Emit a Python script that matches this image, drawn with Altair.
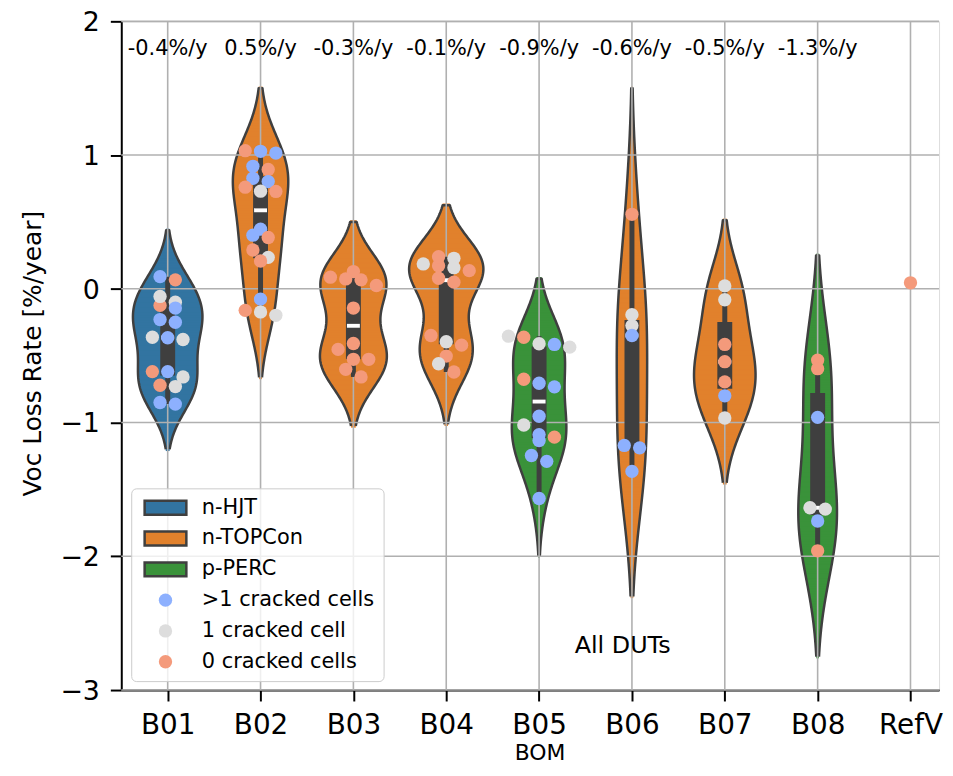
import json
import altair as alt
import pandas as pd

# ---------------- data ----------------
categories = ["B01", "B02", "B03", "B04", "B05", "B06", "B07", "B08", "RefV"]
technology = ["n-HJT", "n-TOPCon", "n-TOPCon", "n-TOPCon", "p-PERC",
              "n-TOPCon", "n-TOPCon", "p-PERC", "n-TOPCon"]
rate_labels = ["-0.4%/y", "0.5%/y", "-0.3%/y", "-0.1%/y",
               "-0.9%/y", "-0.6%/y", "-0.5%/y", "-1.3%/y"]
tech_names = ["n-HJT", "n-TOPCon", "p-PERC"]
tech_colors = ["#3274a1", "#e1812c", "#3a923a"]
crack_names = [">1 cracked cells", "1 cracked cell", "0 cracked cells"]
crack_colors = ["#8db0fe", "#dddddd", "#f49a7b"]
y_ticks = [-3, -2, -1, 0, 1, 2]

# crack codes: 2 = >1 cracked cells, 1 = 1 cracked cell, 0 = 0 cracked cells
b01_values = [0.091, 0.067, -0.124, -0.057, -0.100, -0.144, -0.250, -0.230, -0.366,
              -0.379, -0.362, -0.619, -0.619, -0.659, -0.721, -0.731, -0.850, -0.862]
b01_cracks = [2, 0, 0, 1, 1, 2, 2, 2, 2, 1, 1, 0, 2, 1, 0, 1, 2, 2]
b02_values = [1.028, 1.015, 1.033, 0.892, 0.916, 0.802, 0.827, 0.730, 0.728, 0.760,
              0.401, 0.446, 0.384, 0.290, 0.235, 0.208, -0.077, -0.173, -0.198, -0.161]
b02_cracks = [2, 2, 0, 0, 2, 2, 2, 1, 0, 0, 2, 2, 0, 0, 1, 0, 2, 1, 1, 0]
b03_values = [0.129, 0.067, 0.025, 0.074, 0.087, -0.144, -0.409, -0.453, -0.527,
              -0.527, -0.602, -0.659]
b03_cracks = [0, 0, 0, 0, 0, 0, 0, 0, 0, 0, 0, 0]
b04_values = [0.228, 0.186, 0.173, 0.240, 0.136, 0.158, 0.079, 0.050, -0.349, -0.396,
              -0.421, -0.503, -0.560, -0.622]
b04_cracks = [1, 1, 0, 0, 0, 1, 0, 0, 0, 1, 0, 0, 1, 0]
b05_values = [-0.362, -0.416, -0.436, -0.411, -0.354, -0.706, -0.733, -0.676, -0.953,
              -1.018, -1.090, -1.109, -1.134, -1.246, -1.290, -1.568]
b05_cracks = [0, 2, 1, 1, 1, 2, 2, 0, 2, 1, 2, 0, 2, 2, 2, 2]
b06_values = [0.557, -0.193, -0.275, -0.349, -1.171, -1.189, -1.365]
b06_cracks = [0, 1, 1, 2, 2, 2, 2]
b07_values = [0.022, -0.082, -0.416, -0.545, -0.696, -0.800, -0.966]
b07_cracks = [1, 1, 0, 0, 0, 2, 1]
b08_values = [-0.533, -0.597, -0.961, -1.647, -1.637, -1.736, -1.959]
b08_cracks = [0, 0, 2, 1, 1, 2, 0]
refv_values = [0.045]
refv_cracks = [0]

all_values = [b01_values, b02_values, b03_values, b04_values, b05_values,
              b06_values, b07_values, b08_values, refv_values]
all_cracks = [b01_cracks, b02_cracks, b03_cracks, b04_cracks, b05_cracks,
              b06_cracks, b07_cracks, b08_cracks, refv_cracks]

rows = []
for bom, tech, vals, crs in zip(categories, technology, all_values, all_cracks):
    for v, c in zip(vals, crs):
        rows.append({"BOM": bom, "tech": tech, "value": v, "crack": crack_names[2 - c]})
df = pd.DataFrame(rows)

ann_df = pd.DataFrame({"BOM": categories[:len(rate_labels)], "label": rate_labels})
grid_x_df = pd.DataFrame({"BOM": categories})
grid_y_df = pd.DataFrame({"tick": y_ticks})
note_df = pd.DataFrame({"label": ["All DUTs"]})

# ---------------- styling ----------------
FONT = "DejaVu Sans"
DARK = "#3f3f3f"
cat_expr = json.dumps(categories)
idx_expr = f"indexof({cat_expr}, datum.BOM)"

x_scale = alt.Scale(domain=[-0.5, 8.3075], nice=False, zero=False)
y_scale = alt.Scale(domain=[-3, 2], nice=False, zero=False)

x_axis = alt.Axis(
    values=list(range(len(categories))), labelExpr=f"{cat_expr}[datum.value]",
    grid=False, title="BOM", titleFont=FONT, titleFontSize=22, titleFontWeight="normal",
    titleColor="black", titleX=421, titleY=53, titleBaseline="top", titleAlign="center",
    labelFont=FONT, labelFontSize=28, labelColor="black", labelPadding=11,
    labelFlush=False, labelOverlap=False,
    tickSize=11, tickWidth=2, tickColor="black", domainColor="black", domainWidth=2,
)
y_axis = alt.Axis(
    values=y_ticks, format="d", grid=False, title="Voc Loss Rate [%/year]",
    titleFont=FONT, titleFontSize=25, titleFontWeight="normal", titleColor="black",
    titleX=-76, titleY=334, titleAngle=270, titleAlign="center", titleBaseline="bottom",
    labelFont=FONT, labelFontSize=27, labelColor="black", labelPadding=11, labelOffset=1.5,
    labelFlush=False, labelOverlap=False,
    tickSize=11, tickWidth=2, tickColor="black", domainColor="black", domainWidth=2,
)

color_scale = alt.Scale(domain=tech_names + crack_names, range=tech_colors + crack_colors)
is_tech = f"indexof({json.dumps(tech_names)}, datum.value) >= 0"
legend = alt.Legend(
    title=None, orient="none", legendX=10, legendY=470,
    padding=9, rowPadding=6, gridAlign="all",
    symbolSize=180, symbolOffset=15, labelOffset=26,
    labelFont=FONT, labelFontSize=21, labelColor="black", labelLimit=300,
    fillColor="rgba(255,255,255,0.8)", strokeColor="#cccccc",
    cornerRadius=5, symbolOpacity=1,
    symbolType=alt.ExprRef(expr=f"{is_tech} ? 'M-3.13,-1.04H3.13V1.04H-3.13Z' : 'circle'"),
    symbolStrokeColor=alt.ExprRef(expr=f"{is_tech} ? '{DARK}' : 'transparent'"),
    symbolStrokeWidth=alt.ExprRef(expr=f"{is_tech} ? 2.5 : 0"),
)

base = alt.Chart(df).transform_calculate(idx=idx_expr)
groups = base.transform_joinaggregate(n="count()", groupby=["BOM"]).transform_filter("datum.n > 1")

# ---------------- violins (kernel density per BOM, seaborn-like cut = 2 bw) ----------------
violin_data = groups.transform_joinaggregate(
    sd="stdev(value)", vmin="min(value)", vmax="max(value)", groupby=["BOM"]
).transform_calculate(
    bw="datum.sd * pow(datum.n, -0.2)"
).transform_calculate(
    lo="datum.vmin - 2 * datum.bw", hi="datum.vmax + 2 * datum.bw"
).transform_density(
    "value", groupby=["BOM", "idx", "tech", "lo", "hi"], extent=[-3, 2], steps=400,
    as_=["value", "density"]
).transform_filter(
    "datum.value >= datum.lo && datum.value <= datum.hi"
).transform_joinaggregate(
    dmax="max(density)"
).transform_calculate(
    xl="datum.idx - 0.4 * datum.density / datum.dmax",
    xr="datum.idx + 0.4 * datum.density / datum.dmax",
)

violin_fill = violin_data.transform_calculate(
    vlo="datum.value - 0.013", vhi="datum.value + 0.013"
).mark_rect(opacity=1, strokeWidth=0).encode(
    x=alt.X("xl:Q", scale=x_scale, axis=x_axis),
    x2="xr:Q",
    y=alt.Y("vlo:Q", scale=y_scale, axis=y_axis),
    y2="vhi:Q",
    color=alt.Color("tech:N", scale=color_scale, legend=legend),
)

violin_edge = violin_data.transform_fold(
    ["xl", "xr"], as_=["side", "xpos"]
).transform_calculate(
    ord="datum.side == 'xl' ? datum.value : 100 - datum.value"
).mark_line(color=DARK, strokeWidth=2.5, strokeJoin="round").encode(
    x=alt.X("xpos:Q", scale=x_scale, axis=x_axis),
    y=alt.Y("value:Q", scale=y_scale, axis=y_axis),
    detail="BOM:N",
    order=alt.Order("ord:Q"),
)

# ---------------- grid (drawn above violin bodies) ----------------
grid_x = alt.Chart(grid_x_df).transform_calculate(idx=idx_expr).mark_rule(
    color="#b0b0b0", strokeWidth=1.6
).encode(x=alt.X("idx:Q", scale=x_scale, axis=x_axis))
grid_y = alt.Chart(grid_y_df).mark_rule(color="#b0b0b0", strokeWidth=1.6).encode(
    y=alt.Y("tick:Q", scale=y_scale, axis=y_axis)
)

# ---------------- inner boxes ----------------
whisker = groups.transform_joinaggregate(
    q1="q1(value)", q3="q3(value)", groupby=["BOM"]
).transform_filter(
    "datum.value >= datum.q1 - 1.5 * (datum.q3 - datum.q1) && "
    "datum.value <= datum.q3 + 1.5 * (datum.q3 - datum.q1)"
).transform_aggregate(
    wlo="min(value)", whi="max(value)", groupby=["BOM", "idx"]
).mark_rule(color=DARK, strokeWidth=5).encode(
    x=alt.X("idx:Q", scale=x_scale, axis=x_axis),
    y=alt.Y("wlo:Q", scale=y_scale, axis=y_axis),
    y2="whi:Q",
)
box = groups.transform_aggregate(
    q1="q1(value)", q3="q3(value)", groupby=["BOM", "idx"]
).mark_rule(color=DARK, strokeWidth=15).encode(
    x=alt.X("idx:Q", scale=x_scale, axis=x_axis),
    y=alt.Y("q1:Q", scale=y_scale, axis=y_axis),
    y2="q3:Q",
)
median = groups.transform_aggregate(
    med="median(value)", groupby=["BOM", "idx"]
).mark_point(shape="M-1,-0.3H1V0.3H-1Z", size=169, filled=True, color="white",
             opacity=1, strokeWidth=0).encode(
    x=alt.X("idx:Q", scale=x_scale, axis=x_axis),
    y=alt.Y("med:Q", scale=y_scale, axis=y_axis),
)

# ---------------- swarm points ----------------
points = base.transform_calculate(
    row="floor(datum.value / 0.111)"
).transform_window(
    r="row_number()", groupby=["BOM", "row"],
    sort=[alt.SortField("value", order="descending")],
).transform_joinaggregate(
    k="count()", groupby=["BOM", "row"]
).transform_calculate(
    xp="datum.idx + 0.165 * (datum.r - 1 - (datum.k - 1) / 2)"
).mark_circle(size=180, opacity=1).encode(
    x=alt.X("xp:Q", scale=x_scale, axis=x_axis),
    y=alt.Y("value:Q", scale=y_scale, axis=y_axis),
    color=alt.Color("crack:N", scale=color_scale, legend=legend),
)

# ---------------- annotations ----------------
rates = alt.Chart(ann_df).transform_calculate(idx=idx_expr).mark_text(
    font=FONT, fontSize=21, color="black", baseline="middle", align="center"
).encode(
    x=alt.X("idx:Q", scale=x_scale, axis=x_axis),
    y=alt.YDatum(1.79, type="quantitative", scale=y_scale, axis=y_axis),
    text="label:N",
)
note = alt.Chart(note_df).mark_text(
    font=FONT, fontSize=24, color="black", baseline="middle", align="center"
).encode(
    x=alt.XDatum(4.9, type="quantitative", scale=x_scale, axis=x_axis),
    y=alt.YDatum(-2.67, type="quantitative", scale=y_scale, axis=y_axis),
    text="label:N",
)

chart = alt.layer(
    violin_fill, violin_edge, grid_x, grid_y, whisker, box, median, points, rates, note
).properties(
    width=823, height=673,
    autosize=alt.AutoSizeParams(type="none"),
    padding={"left": 114, "top": 11, "right": 6, "bottom": 71},
    background="white",
).configure_view(stroke=None).configure(font=FONT)

chart.save("out.html", embed_options={"renderer": "svg", "actions": False})
